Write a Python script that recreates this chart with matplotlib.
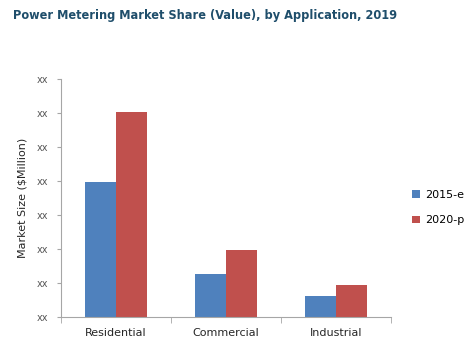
import matplotlib
matplotlib.use('Agg')
import matplotlib.pyplot as plt
import numpy as np

# Data (axis units = tick steps)
categories = ['Residential', 'Commercial', 'Industrial']
values_2015 = [3.96, 1.26, 0.62]
values_2020 = [6.04, 1.97, 0.93]
series_names = ['2015-e', '2020-p']
ytick_labels = ['xx'] * 8

fig = plt.figure(figsize=(4.69, 3.57), dpi=100)
ax = fig.add_axes([61/469, 40/357, 330/469, 238/357])

x = np.arange(len(categories))
w = 0.283
ax.bar(x - w/2, values_2015, w, color='#4F81BD', label=series_names[0])
ax.bar(x + w/2, values_2020, w, color='#C0504D', label=series_names[1])

ax.set_xlim(-0.5, 2.5)
ax.set_ylim(0, 7)
ax.set_yticks(range(8))
ax.set_yticklabels(ytick_labels, fontsize=7, color='#595959')
ax.set_xticks(x)
ax.set_xticklabels(categories, fontsize=8, color='#262626')
ax.set_xticks(np.arange(-0.5, 3, 1), minor=True)
ax.tick_params(axis='x', which='major', length=0, pad=8)
ax.tick_params(axis='x', which='minor', length=4, color='#A6A6A6')
ax.tick_params(axis='y', length=3, color='#A6A6A6', pad=6)
for s in ['top', 'right']:
    ax.spines[s].set_visible(False)
ax.spines['left'].set_color('#A6A6A6')
ax.spines['bottom'].set_color('#A6A6A6')

ax.set_ylabel('Market Size ($Million)', fontsize=8, color='#262626')
ax.yaxis.set_label_coords(-0.103, 0.5)

ax.legend(loc='center left', bbox_to_anchor=(1.065, 0.46), frameon=False,
          fontsize=8, handlelength=0.7, handleheight=0.7, labelspacing=1.4,
          handletextpad=0.4, borderpad=0, borderaxespad=0)

fig.text(13/469, 1 - 16/357, 'Power Metering Market Share (Value), by Application, 2019',
         fontsize=9.1, fontweight='bold', color='#1F4E6B', va='center',
         fontstretch='condensed')

fig.savefig('out.png', dpi=100)
